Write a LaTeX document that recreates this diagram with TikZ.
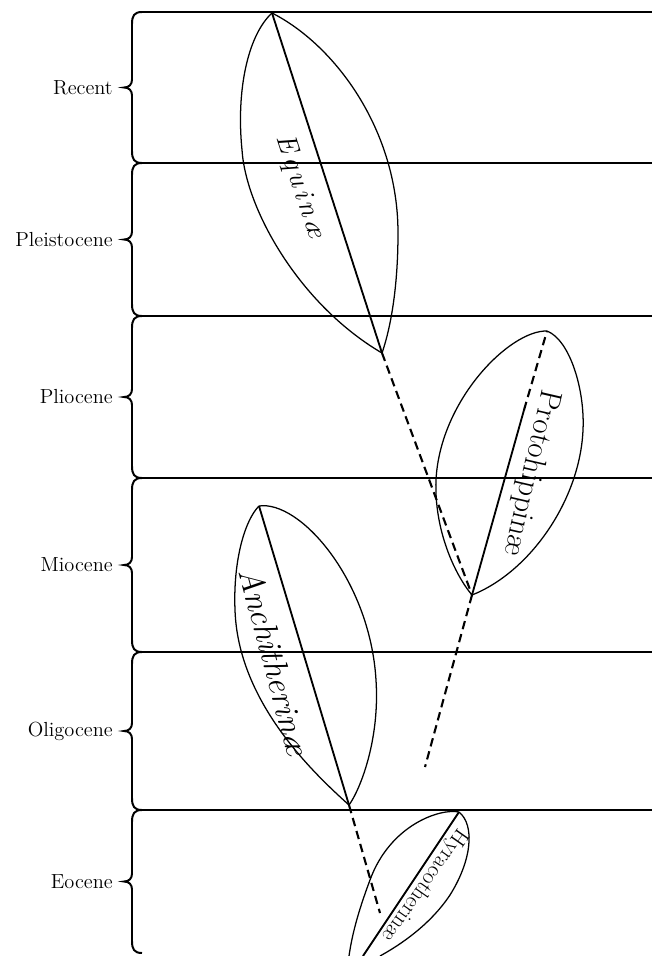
\documentclass[tikz,border=0pt]{standalone}
\usepackage{fontspec}
\newcommand\lsp{\kern2.6pt}
\tikzset{
  epoch/.style={line width=1.4pt},
  leafline/.style={line width=0.9pt},
  midrib/.style={line width=1.3pt},
  descent/.style={line width=1.5pt, dash pattern=on 6pt off 3.6pt},
  epochlabel/.style={anchor=east, inner sep=0pt, font=\fontsize{14.5}{16}\selectfont},
  subfamily/.style={inner sep=0pt}
}
\begin{document}
\begin{tikzpicture}[x=0.025cm, y=-0.025cm]
    \useasboundingbox (0,0) rectangle (652,956);
    % epochs: braces, labels and boundary lines
    \foreach \ya/\yb/\name/\lab in {12/163/recent/Recent, 163/316/pleist/Pleistocene,
        316/478/plio/Pliocene, 478/652/mio/Miocene, 652/810/oligo/Oligocene, 810/953/eo/Eocene} {
        \pgfmathsetmacro\ym{(\ya+\yb)/2}
        \draw[epoch] (142,\ya) .. controls (134,\ya) and (132,\ya+4) .. (132,\ya+12)
            -- (132,\ym-8) .. controls (132,\ym-3) and (129,\ym) .. (124,\ym)
            .. controls (129,\ym) and (132,\ym+3) .. (132,\ym+8)
            -- (132,\yb-12) .. controls (132,\yb-4) and (134,\yb) .. (142,\yb);
        \node[epochlabel] (\name) at (113,\ym) {\lab};
    }
    \foreach \y in {12,163,316,478,652,810}
        \draw[epoch] (142,\y) -- (652,\y);
    % tips of the leaves
    \coordinate (eqT) at (272,13);
    \coordinate (eqB) at (382,353);
    \coordinate (proT) at (547,331);
    \coordinate (proM) at (524,410);
    \coordinate (proB) at (472,595);
    \coordinate (anT) at (259,506);
    \coordinate (anB) at (349,805);
    \coordinate (hyT) at (459,812);
    \coordinate (hyB) at (363,956);
    \coordinate (proEnd) at (425,767);
    \coordinate (anEnd) at (380,913);
    % Equinae
    \draw[leafline] (eqT) .. controls (248,35) and (236,90) .. (242,150)
        .. controls (246,210) and (300,305) .. (eqB);
    \draw[leafline] (eqT) .. controls (335,45) and (398,130) .. (398,233)
        .. controls (398,290) and (390,330) .. (eqB);
    \draw[midrib] (eqT) -- (eqB);
    \node[subfamily, rotate=-72, font=\fontsize{20}{22}\selectfont\itshape]
        (equinae) at (300,187) {E\lsp q\lsp u\lsp i\lsp n\lsp\ae};
    % Protohippinae
    \draw[leafline] (proT) .. controls (570,340) and (585,390) .. (583,430)
        .. controls (580,500) and (530,572) .. (proB);
    \draw[leafline] (proT) .. controls (510,330) and (440,400) .. (436,480)
        .. controls (434,530) and (455,575) .. (proB);
    \draw[midrib] (proB) -- (proM);
    \draw[descent] (proM) -- (proT);
    \node[subfamily, rotate=-103, font=\fontsize{22}{24}\selectfont]
        (protohippinae) at (531,473) {Protohippin\ae};
    % Anchitheriinae
    \draw[leafline] (anT) .. controls (245,520) and (233,560) .. (235,610)
        .. controls (238,700) and (310,770) .. (anB);
    \draw[leafline] (anT) .. controls (300,500) and (370,580) .. (376,680)
        .. controls (380,740) and (360,790) .. (anB);
    \draw[midrib] (anT) -- (anB);
    \node[subfamily, rotate=-75, font=\fontsize{24}{26}\selectfont\itshape]
        (anchitherinae) at (275,662) {Anchitherin\ae};
    % Hyracotheriinae
    \draw[leafline] (hyT) .. controls (440,808) and (390,825) .. (370,880)
        .. controls (358,912) and (352,935) .. (349,956);
    \draw[leafline] (hyT) .. controls (475,825) and (472,860) .. (450,895)
        .. controls (430,925) and (400,945) .. (380,956);
    \draw[midrib] (hyT) -- (hyB);
    \node[subfamily, rotate=-125, font=\fontsize{16}{18}\selectfont]
        (hyracotherinae) at (425,885) {Hyracotherin\ae};
    % lines of descent
    \draw[descent] (eqB) -- (proB);
    \draw[descent] (proB) -- (proEnd);
    \draw[descent] (anB) -- (anEnd);
\end{tikzpicture}
\end{document}
